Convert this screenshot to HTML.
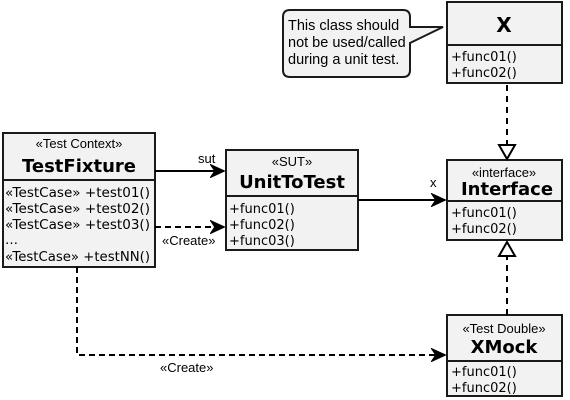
<!DOCTYPE html>
<html><head><style>html,body{margin:0;padding:0;background:#fff;width:570px;height:400px;overflow:hidden}</style></head>
<body>
<svg width="570" height="400" viewBox="0 0 570 400" xmlns="http://www.w3.org/2000/svg">
<defs>
<marker id="ar" markerWidth="16" markerHeight="14" refX="14" refY="7" orient="auto" markerUnits="userSpaceOnUse"><path d="M1,1 L14,7 L1,13 L5,7 Z" fill="#000" stroke="#000" stroke-width="1.5" stroke-linejoin="miter"/></marker>
</defs>
<g fill="#f2f2f2" stroke="#1a1a1a" stroke-width="2">
<rect x="447" y="2" width="115" height="81"/>
<rect x="447" y="160" width="115" height="80"/>
<rect x="226" y="150" width="132" height="100"/>
<rect x="3" y="133" width="152" height="134"/>
<rect x="447" y="315" width="115" height="81"/>
<path d="M290,10 H403 Q410,10 410,17 V27 L443,27 L410,43 V70 Q410,77 403,77 H290 Q283,77 283,70 V17 Q283,10 290,10 Z"/>
</g>
<g stroke="#1a1a1a" stroke-width="2">
<line x1="447" y1="45" x2="562" y2="45"/>
<line x1="447" y1="201" x2="562" y2="201"/>
<line x1="226" y1="196" x2="358" y2="196"/>
<line x1="3" y1="180" x2="155" y2="180"/>
<line x1="447" y1="361" x2="562" y2="361"/>
</g>
<g stroke="#000" stroke-width="2" fill="none">
<line x1="155" y1="171" x2="224" y2="171" marker-end="url(#ar)"/>
<line x1="358" y1="200" x2="445" y2="200" marker-end="url(#ar)"/>
<line x1="155" y1="227" x2="224" y2="227" stroke-dasharray="6,4" marker-end="url(#ar)"/>
<polyline points="77,267 77,355 445,355" stroke-dasharray="6,4" marker-end="url(#ar)"/>
<line x1="507" y1="85" x2="507" y2="145" stroke-dasharray="6,5"/>
<path d="M499,145 L515,145 L507,159 Z" fill="#fff"/>
<line x1="507" y1="315" x2="507" y2="256" stroke-dasharray="6,5"/>
<path d="M499,256 L515,256 L507,242 Z" fill="#fff"/>
</g>
<g font-family="Liberation Sans, sans-serif" font-size="13" fill="#000">
<text x="288" y="30" font-size="14.5">This class should</text>
<text x="288" y="47" font-size="14.5">not be used/called</text>
<text x="288" y="64" font-size="14.5">during a unit test.</text>
<text x="79" y="148" text-anchor="middle">«Test Context»</text>
<text x="292" y="166" text-anchor="middle">«SUT»</text>
<text x="504" y="177" text-anchor="middle">«interface»</text>
<text x="504" y="333" text-anchor="middle">«Test Double»</text>
<text x="198" y="163">sut</text>
<text x="430" y="187">x</text>
<text x="162" y="245">«Create»</text>
<text x="160" y="372">«Create»</text>
</g>
<g font-family="DejaVu Sans, sans-serif" font-weight="bold" font-size="18" fill="#000" text-anchor="middle">
<text x="79" y="172" font-size="18">TestFixture</text>
<text x="292" y="188" font-size="18">UnitToTest</text>
<text x="507" y="195">Interface</text>
<text x="504" y="32" font-size="20">X</text>
<text x="504" y="353">XMock</text>
</g>
<g font-family="DejaVu Sans, sans-serif" font-size="13" fill="#000">
<text x="5" y="197" textLength="145" lengthAdjust="spacingAndGlyphs">«TestCase»  +test01()</text>
<text x="5" y="213" textLength="145" lengthAdjust="spacingAndGlyphs">«TestCase»  +test02()</text>
<text x="5" y="229" textLength="145" lengthAdjust="spacingAndGlyphs">«TestCase»  +test03()</text>
<text x="5" y="244">…</text>
<text x="5" y="261" textLength="145" lengthAdjust="spacingAndGlyphs">«TestCase»  +testNN()</text>
<text x="229" y="213">+func01()</text>
<text x="229" y="229">+func02()</text>
<text x="229" y="245">+func03()</text>
<text x="451" y="61">+func01()</text>
<text x="451" y="77">+func02()</text>
<text x="451" y="217">+func01()</text>
<text x="451" y="233">+func02()</text>
<text x="451" y="376">+func01()</text>
<text x="451" y="392">+func02()</text>
</g>
</svg>
</body></html>
